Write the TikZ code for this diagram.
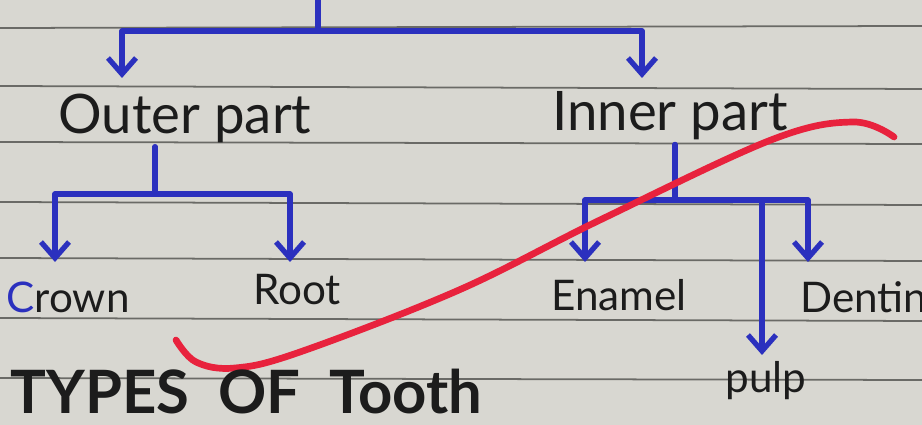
\documentclass[tikz,border=0pt]{standalone}
\usepackage{fontspec}
\setmainfont{Lato}
\usetikzlibrary{arrows.meta, positioning}
\definecolor{tintaazul}{HTML}{2B30BE}
\definecolor{tintaroja}{HTML}{E8223D}
\definecolor{tintanegra}{HTML}{1C1C1C}
\definecolor{papel}{HTML}{D8D7D1}
\definecolor{renglon}{HTML}{6A6A66}
\colorlet{colRama}{tintaazul}
\colorlet{colTacha}{tintaroja}
\colorlet{colTexto}{tintanegra}
\tikzset{
  textoParte/.style={font=\fontsize{15.5}{17}\selectfont, text=colTexto, inner sep=1pt},
  textoHoja/.style={font=\fontsize{12}{14}\selectfont, text=colTexto, inner sep=1pt},
  textoTitulo/.style={font=\fontsize{17}{19}\selectfont\bfseries, text=colTexto, inner sep=0pt},
  rama/.style={line width=1.5pt, colRama, line cap=round, line join=round},
  flechaRama/.style={rama, -{Straight Barb[length=1.6mm, width=2.8mm]}},
  trazoRojo/.style={line width=1.9pt, colTacha, line cap=round},
  renglonPapel/.style={renglon, line width=0.5pt},
}

\begin{document}
\begin{tikzpicture}[x=0.01cm, y=-0.01cm]
  \fill[papel] (0,0) rectangle (922,425);
  \useasboundingbox (0,0) rectangle (922,425);
  % renglones del cuaderno
  \foreach \y/\d in {28/-2, 86/3, 142/2, 202/3, 258/3, 318/3, 378/2}
    \draw[renglonPapel] (0,\y) -- (922,\y+\d);

  % primer nivel
  \coordinate (tope) at (318,0);
  \coordinate (nudoTope) at (318,31);
  \coordinate (puntaOuter) at (122,78);
  \coordinate (puntaInner) at (642,78);
  \node[textoParte] (outer) at (185,118) {Outer part};
  \node[textoParte] (inner) at (670,116) {Inner part};

  \draw[rama] (tope) -- (nudoTope);
  \draw[flechaRama] (nudoTope) -| (puntaOuter);
  \draw[flechaRama] (nudoTope) -| (puntaInner);

  % parte externa
  \coordinate (nudoOuter) at (155,194);
  \coordinate (puntaCrown) at (55,262);
  \coordinate (puntaRoot) at (290,262);
  \node[textoHoja] (crown) at (68,297) {\textcolor{colRama}{C}rown};
  \node[textoHoja] (root) at (297,290) {Root};

  \draw[rama] (nudoOuter |- outer.south) -- (nudoOuter);
  \draw[flechaRama] (nudoOuter) -| (puntaCrown);
  \draw[flechaRama] (nudoOuter) -| (puntaRoot);

  % parte interna
  \coordinate (nudoInner) at (675,200);
  \coordinate (puntaEnamel) at (585,262);
  \coordinate (puntaPulp) at (762,355);
  \coordinate (puntaDentin) at (808,262);
  \node[textoHoja] (enamel) at (619,295) {Enamel};
  \node[textoHoja, anchor=west] (dentin) at (796,297) {Dentin};
  \node[textoHoja] (pulp) at (766,381) {pulp};

  \draw[rama] (nudoInner |- inner.south) -- (nudoInner);
  \draw[flechaRama] (nudoInner) -| (puntaEnamel);
  \draw[flechaRama] (nudoInner) -| (puntaPulp);
  \draw[flechaRama] (nudoInner) -| (puntaDentin);

  % tachadura roja
  \draw[trazoRojo] plot[smooth, tension=0.6] coordinates
    {(176,340) (196,362) (235,368) (300,352) (459,290) (600,220) (771,140) (853,122) (894,137)};

  \node[textoTitulo, anchor=base west] (titulo) at (10,413) {TYPES\ \ OF\ \ Tooth};
\end{tikzpicture}
\end{document}
